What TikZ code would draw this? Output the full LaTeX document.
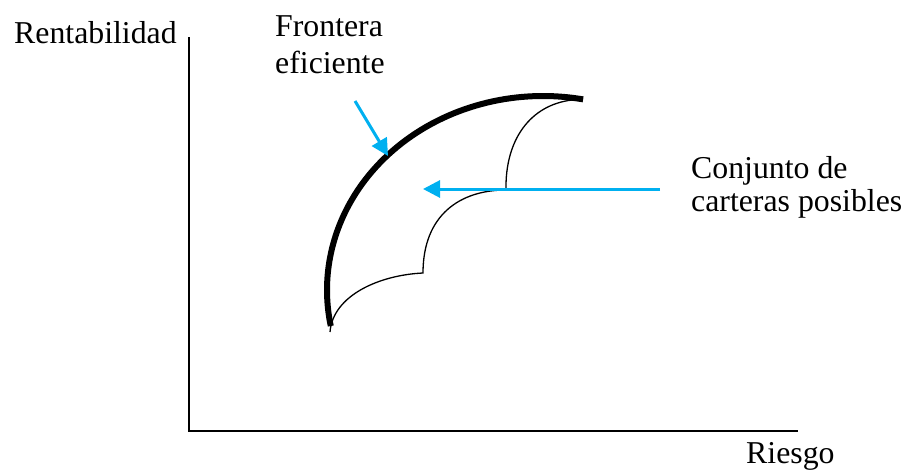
\documentclass[tikz,border=0pt]{standalone}
\usepackage{fontspec}
\setmainfont{Liberation Serif}
\usepackage{xcolor}
\usepackage{tikz}
\usetikzlibrary{arrows.meta, positioning}
\definecolor{arrowcolor}{RGB}{0,176,240}

\begin{document}
\begin{tikzpicture}[
  x=1pt, y=-1pt,
  txt/.style={anchor=base west, inner sep=0pt, align=left,
              font=\fontsize{31.8}{37}\selectfont},
  axis/.style={line width=1.6pt, line cap=rect},
  frontier/.style={line width=6pt},
  thin/.style={line width=1.3pt},
  arrow/.style={-{Triangle[length=17pt, width=17pt]}, line width=3pt,
                color=arrowcolor}
]
\useasboundingbox (0,0) rectangle (904,471);

% axes
\coordinate (ytop) at (189,38);
\coordinate (origin) at (189,431);
\coordinate (xend) at (797,431);
\draw[axis] (ytop) -- (origin) -- (xend);

% labels
\node[txt] (rent) at (14,43) {Rentabilidad};
\node[txt] (riesgo) at (746,463) {Riesgo};
\node[txt] (front) at (275,73) {Frontera\\eficiente};
\node[txt, font=\fontsize{31.8}{33}\selectfont] (conj) at (691,211)
  {Conjunto de\\carteras posibles};

% set of possible portfolios
\coordinate (p0) at (330,332);
\coordinate (p1) at (423,273);
\coordinate (p2) at (506,190);
\coordinate (p3) at (572,100);
\draw[thin] (p0) .. controls (333,295) and (380,275) .. (p1)
            .. controls (423,215) and (460,190) .. (p2)
            .. controls (505,140) and (530,105) .. (p3);

% efficient frontier (elliptic arc)
\coordinate (fc) at (543,290);
\draw[frontier] ([shift={(169.3:216 and 194)}]fc)
  arc[start angle=169.3, end angle=280.7, x radius=216, y radius=194];

% pointers
\coordinate (a1s) at (355,101);
\coordinate (a1e) at (388,156);
\draw[arrow] (a1s) -- (a1e);
\coordinate (a2s) at (660,189);
\coordinate (a2e) at (423,189);
\draw[arrow] (a2s) -- (a2e);

\end{tikzpicture}
\end{document}
